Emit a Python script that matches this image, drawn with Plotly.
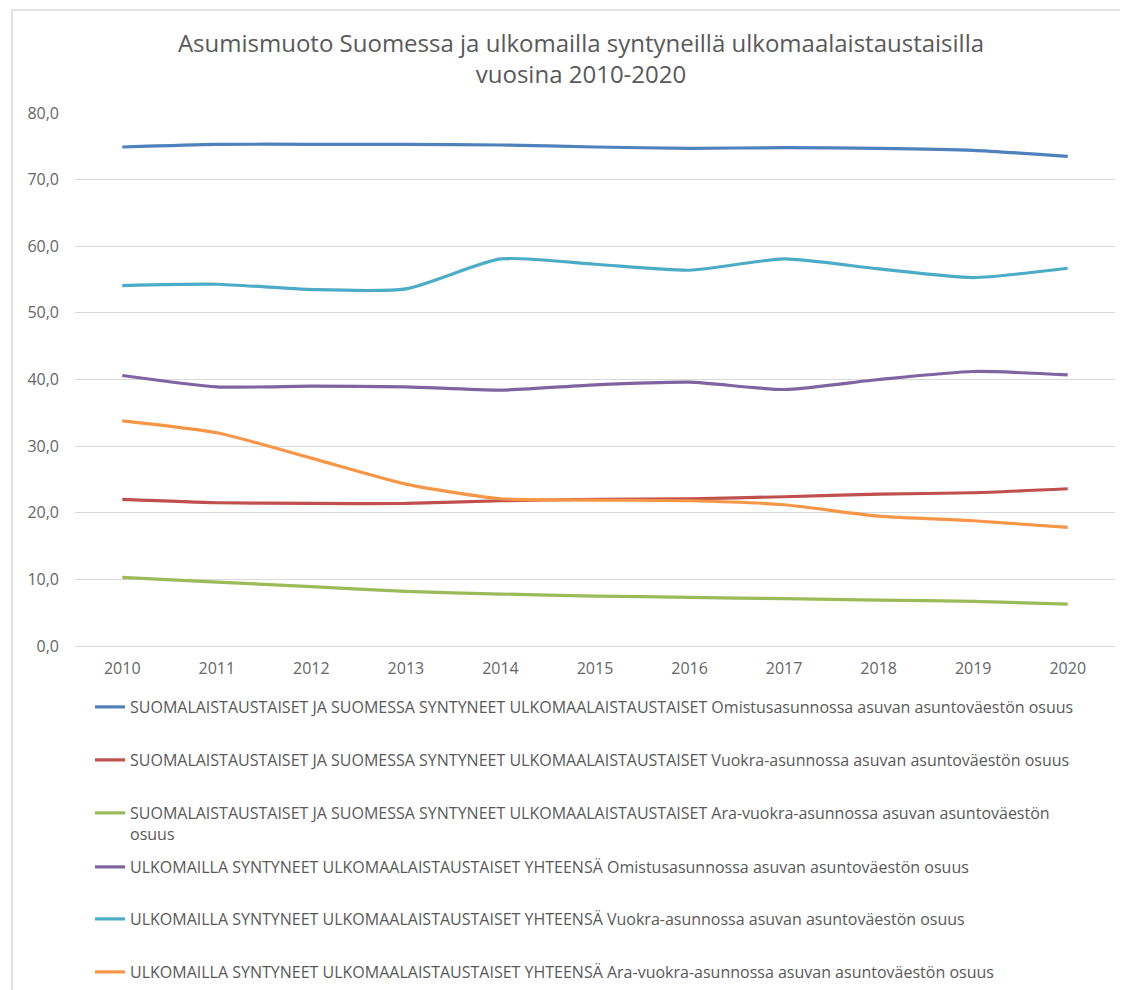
import plotly.graph_objects as go

# vuodet ja sarjat (luettu kuvasta)
vuodet = ["2010", "2011", "2012", "2013", "2014", "2015", "2016", "2017", "2018", "2019", "2020"]

suomi_omistus = [74.9, 75.3, 75.3, 75.3, 75.2, 74.9, 74.7, 74.8, 74.7, 74.4, 73.5]
suomi_vuokra = [22.0, 21.5, 21.4, 21.4, 21.8, 22.0, 22.1, 22.4, 22.8, 23.0, 23.6]
suomi_ara = [10.3, 9.6, 8.9, 8.2, 7.8, 7.5, 7.3, 7.1, 6.9, 6.7, 6.3]
ulko_omistus = [40.6, 38.9, 39.0, 38.9, 38.4, 39.2, 39.6, 38.5, 40.0, 41.2, 40.7]
ulko_vuokra = [54.1, 54.3, 53.5, 53.6, 58.1, 57.3, 56.4, 58.1, 56.6, 55.3, 56.7]
ulko_ara = [33.8, 32.0, 28.2, 24.3, 22.1, 21.9, 21.8, 21.2, 19.5, 18.8, 17.8]

nimet = [
    "SUOMALAISTAUSTAISET JA SUOMESSA SYNTYNEET ULKOMAALAISTAUSTAISET Omistusasunnossa asuvan asuntoväestön osuus",
    "SUOMALAISTAUSTAISET JA SUOMESSA SYNTYNEET ULKOMAALAISTAUSTAISET Vuokra-asunnossa asuvan asuntoväestön osuus",
    "SUOMALAISTAUSTAISET JA SUOMESSA SYNTYNEET ULKOMAALAISTAUSTAISET Ara-vuokra-asunnossa asuvan asuntoväestön<br>osuus",
    "ULKOMAILLA SYNTYNEET ULKOMAALAISTAUSTAISET YHTEENSÄ Omistusasunnossa asuvan asuntoväestön osuus",
    "ULKOMAILLA SYNTYNEET ULKOMAALAISTAUSTAISET YHTEENSÄ Vuokra-asunnossa asuvan asuntoväestön osuus",
    "ULKOMAILLA SYNTYNEET ULKOMAALAISTAUSTAISET YHTEENSÄ Ara-vuokra-asunnossa asuvan asuntoväestön osuus",
]
sarjat = [suomi_omistus, suomi_vuokra, suomi_ara, ulko_omistus, ulko_vuokra, ulko_ara]
varit = ["#4F81BD", "#C0504D", "#9BBB59", "#8064A2", "#4BACC6", "#F79646"]

# legendan rivien keskikohdat (y, kuvan pikseleinä)
legenda_y = [707, 760, 813, 867, 919, 972]

FONT = "Open Sans"
HARMAA = "#666666"
OFF = 8  # sivun body-marginaali

fig = go.Figure()
for i, (nimi, arvot, vari) in enumerate(zip(nimet, sarjat, varit)):
    lg = "legend%d" % (i + 2)
    fig.add_trace(go.Scatter(x=vuodet, y=arvot, name=nimi, mode="lines",
                             line=dict(color=vari, width=3.2, shape="spline", smoothing=0.6),
                             legend=lg, showlegend=True))

# plot-alue kuvassa: x 75..1115, y=80 -> 113px, y=0 -> 646px
top, bottom = 113 - OFF, 646 - OFF
left, right = 75 - OFF, 1115 - OFF
ph = bottom - top
pw = right - left
legendat = {}
for i, yp in enumerate(legenda_y):
    lg = "legend%d" % (i + 2)
    legendat[lg] = dict(x=(90 - 75) / pw, xanchor="left", y=(bottom - (yp - OFF)) / ph,
                        yanchor="middle", valign="top",
                        font=dict(family=FONT, size=16, color="#595959"),
                        bgcolor="rgba(0,0,0,0)", itemwidth=30)
# kaksirivinen selite: ylärivi samaan kohtaan kuin muut
legendat["legend4"]["yanchor"] = "top"
legendat["legend4"]["y"] = (bottom - (legenda_y[2] - OFF) + 17) / ph

fig.update_layout(
    width=1128, height=990,
    showlegend=True,
    paper_bgcolor="white", plot_bgcolor="white",
    margin=dict(l=left, r=1128 - right, t=top, b=990 - bottom, autoexpand=False),
    separators=", ",
    title=dict(text="Asumismuoto Suomessa ja ulkomailla syntyneillä ulkomaalaistaustaisilla<br>vuosina 2010-2020",
               x=(581 - OFF) / 1128, xanchor="center", xref="container",
               y=1 - (52 - OFF) / 990, yanchor="middle",
               font=dict(family=FONT, size=24, color="#595959")),
    font=dict(family=FONT, color=HARMAA),
    **legendat,
)

fig.update_xaxes(type="category", range=[-0.5, 10.5], showgrid=False,
                 showline=True, linecolor="#d9d9d9", linewidth=1,
                 ticks="", tickfont=dict(family=FONT, size=16, color=HARMAA),
                 ticklabelstandoff=8, automargin=False)
fig.update_yaxes(range=[0, 80], dtick=10, tickformat=".1f",
                 showgrid=True, gridcolor="#d9d9d9", gridwidth=1,
                 zeroline=False, showline=False, ticks="",
                 tickfont=dict(family=FONT, size=16, color=HARMAA),
                 ticklabelstandoff=15, automargin=False)

# kaavion kehys
fig.add_shape(type="rect", xref="paper", yref="paper",
              x0=(12 - 75) / pw, x1=1.5,
              y0=(bottom - 1100) / ph, y1=(bottom - (10 - OFF)) / ph,
              line=dict(color="#d9d9d9", width=1.5), fillcolor="rgba(0,0,0,0)", layer="below")

fig.write_html("out.html")
